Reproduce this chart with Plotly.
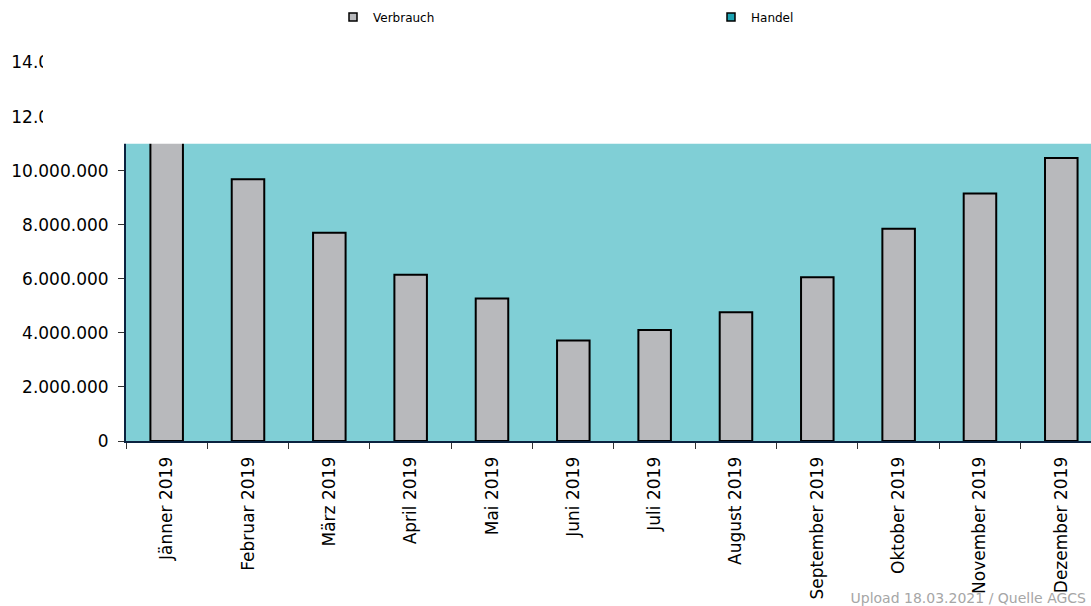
import plotly.graph_objects as go

categories = ["Jänner 2019", "Februar 2019", "März 2019", "April 2019", "Mai 2019",
              "Juni 2019", "Juli 2019", "August 2019", "September 2019",
              "Oktober 2019", "November 2019", "Dezember 2019"]
verbrauch = [11600000, 9680000, 7700000, 6150000, 5270000, 3720000,
             4110000, 4760000, 6060000, 7850000, 9150000, 10470000]
y_tickvals = [0, 2000000, 4000000, 6000000, 8000000, 10000000, 12000000, 14000000]
y_ticktext = ["0", "2.000.000", "4.000.000", "6.000.000", "8.000.000",
              "10.000.000", "12.000.000", "14.000.000"]
source_text = "Upload 18.03.2021 / Quelle AGCS"

W, H = 1091, 606
left, bottom_px = 126, 441.5
px_per_unit = 29.15 / 1e6
cat_w = 81.33

TEAL = "#80CFD6"
GREY = "#B8B9BC"
NAVY = "#0B2340"
FONT = "DejaVu Sans"

fig = go.Figure()
fig.add_trace(go.Bar(
    x=categories, y=verbrauch, name="Verbrauch",
    marker=dict(color=GREY, line=dict(color="#000000", width=2)),
    width=0.4, showlegend=False,
))
# legend entries
fig.add_trace(go.Scatter(x=[None], y=[None], mode="markers", name="Verbrauch",
                         marker=dict(symbol="square", size=8, color=GREY,
                                     line=dict(color="#000", width=1.5))))
fig.add_trace(go.Scatter(x=[None], y=[None], mode="markers", name="Handel",
                         marker=dict(symbol="square", size=8, color="#1CA3B2",
                                     line=dict(color="#000", width=1.5))))

ytop = bottom_px / px_per_unit
xmax = -0.5 + (W - left) / cat_w

fig.update_layout(
    width=W, height=H,
    margin=dict(l=left, r=0, t=0, b=H - bottom_px, pad=0),
    paper_bgcolor="white", plot_bgcolor=TEAL,
    font=dict(family=FONT, size=17, color="#000"),
    showlegend=True,
    legend=dict(orientation="h", x=(377 - 44) / W, xanchor="left",
                y=1 - 17 / H, yanchor="middle", yref="container", xref="container",
                entrywidth=333, font=dict(size=12, family=FONT),
                bgcolor="rgba(0,0,0,0)", itemwidth=30),
    title=dict(text=source_text, xref="container", yref="container",
               x=1 - 5 / W, xanchor="right", y=1 - 598 / H, yanchor="middle",
               font=dict(size=14, family=FONT, color="#A6A6A6")),
    bargap=0.6,
)
fig.update_xaxes(
    type="category", range=[-0.5, xmax], tickangle=-90,
    showline=True, linecolor=NAVY, linewidth=2, mirror=False,
    ticks="outside", tickson="boundaries", ticklen=6, tickcolor="#333", tickwidth=1,
    showgrid=False, zeroline=False, tickfont=dict(size=17, family=FONT),
    ticklabelstandoff=7,
)
fig.update_yaxes(
    range=[0, ytop], tickvals=y_tickvals, ticktext=y_ticktext,
    showline=True, linecolor=NAVY, linewidth=2,
    ticks="outside", ticklen=6, tickcolor="#333", tickwidth=1,
    showgrid=False, zeroline=False, tickfont=dict(size=17, family=FONT),
    ticklabelstandoff=6,
)
# white cover over the top of the chart (legend area in original)
fig.add_shape(type="rect", xref="paper", yref="paper",
              x0=(43 - left) / (W - left), x1=1.0,
              y0=(bottom_px - 121) / bottom_px, y1=1.05,
              fillcolor="white", line=dict(width=0), layer="above")

fig.write_html("out.html", config={"displayModeBar": False},
               post_script="document.body.style.margin='0';document.body.style.overflow='hidden';")
